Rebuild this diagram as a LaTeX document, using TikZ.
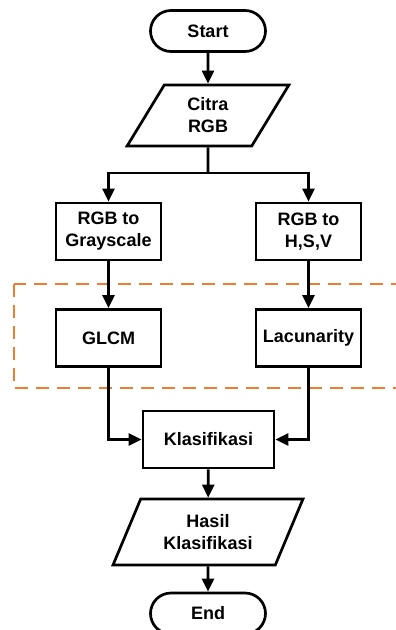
\documentclass[tikz,border=0pt]{standalone}
\usepackage{fontspec}
\setmainfont{Liberation Sans}
\usetikzlibrary{arrows.meta, shapes.geometric, shapes.misc}
\definecolor{regionorange}{RGB}{237,125,49}

\begin{document}
\begin{tikzpicture}[x=1pt, y=-1pt, every node/.style={draw, align=center, font=\fontsize{18}{22}\selectfont\bfseries, inner sep=2pt}, every path/.style={line width=2.7pt}, term/.style={rounded rectangle, minimum width=119pt, minimum height=41pt}, io/.style={trapezium, trapezium left angle=64, trapezium right angle=116, trapezium stretches=true}, proc/.style={rectangle, minimum width=105pt, minimum height=57pt}, flow/.style={-{Triangle[length=13pt, width=12pt]}}]
			\useasboundingbox (0,0) rectangle (396,630);
			\draw[regionorange, dash pattern=on 13pt off 8pt] (14,284) rectangle (420,388);
			\node[term] (start) at (208,31) {Start};
			\node[io, minimum width=162pt, minimum height=61pt] (citra) at (208,115.5) {Citra\\RGB};
			\coordinate (split) at (208,173);
			\node[proc] (gray) at (108.5,231.5) {RGB to\\Grayscale};
			\node[proc] (hsv) at (308.5,231.5) {RGB to\\H,S,V};
			\node[proc] (glcm) at (108.5,338) {GLCM};
			\node[proc] (lacu) at (308.5,338) {Lacunarity};
			\node[proc, minimum width=131pt] (klas) at (208.5,439.5) {Klasifikasi};
			\node[io, minimum width=190pt, minimum height=66pt] (hasil) at (208,532) {Hasil\\Klasifikasi};
			\node[term] (end) at (208,613.5) {End};
			\draw[flow] (start)--(citra);
			\draw (citra)--(split);
			\draw[flow] (split) -| (gray);
			\draw[flow] (split) -| (hsv);
			\draw[flow] (gray)--(glcm);
			\draw[flow] (hsv)--(lacu);
			\draw[flow] (glcm) |- (klas);
			\draw[flow] (lacu) |- (klas);
			\draw[flow] (klas)--(hasil);
			\draw[flow] (hasil)--(end);
		\end{tikzpicture}
\end{document}
